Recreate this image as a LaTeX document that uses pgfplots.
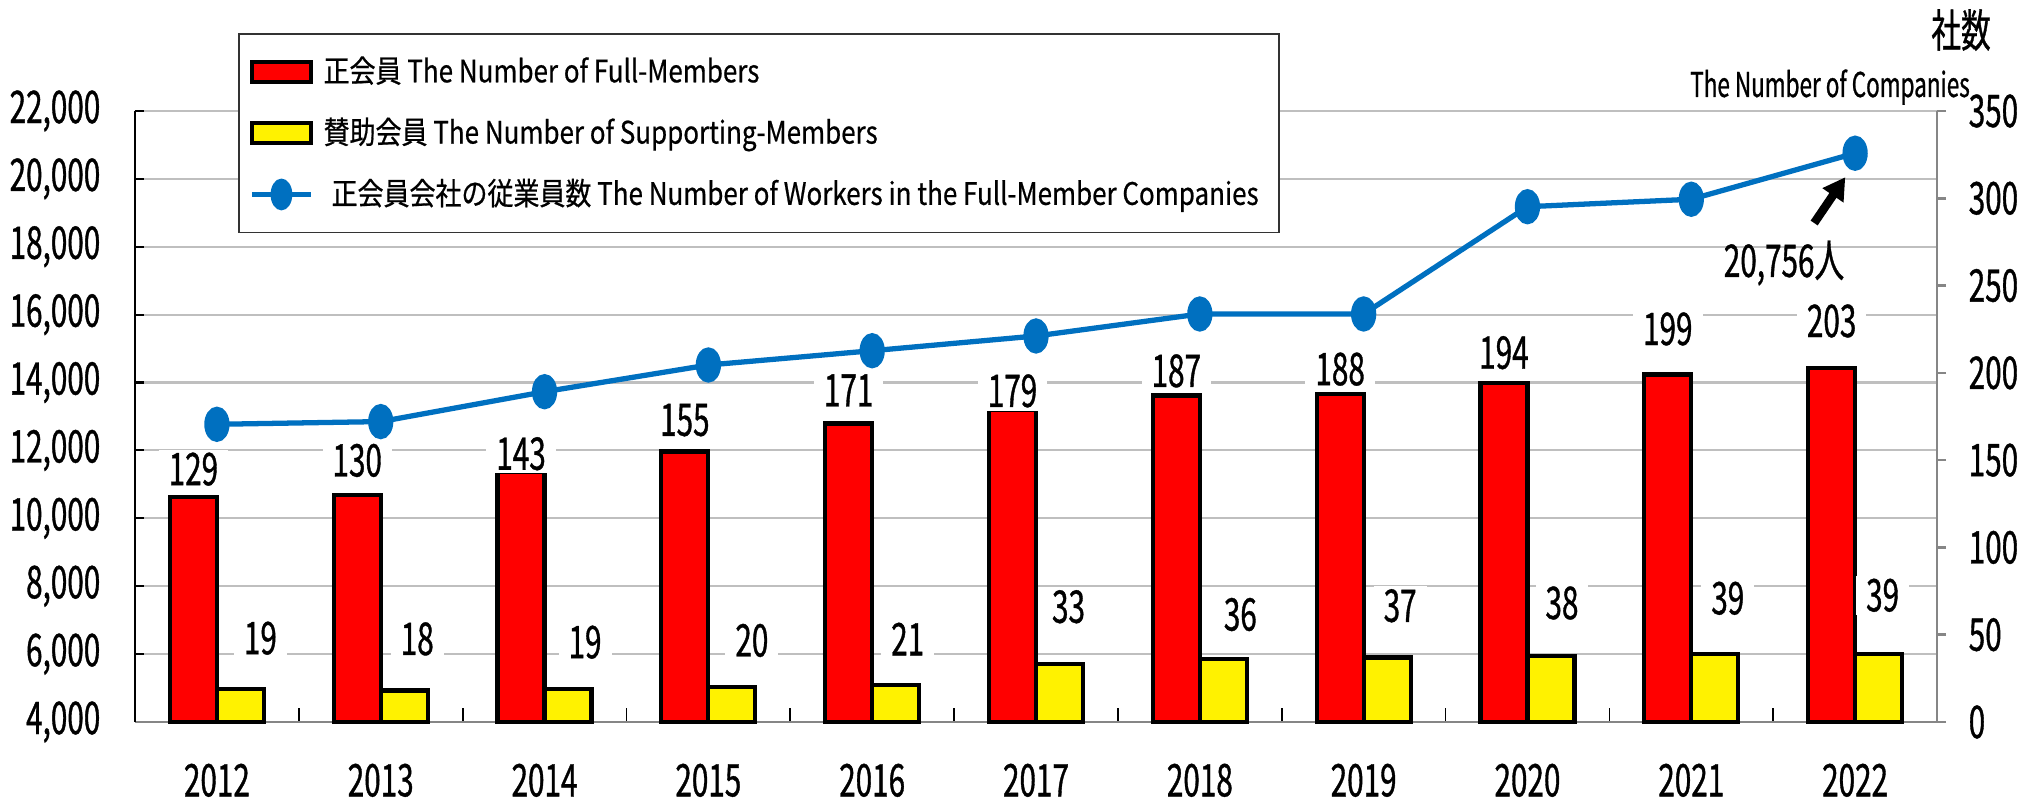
\documentclass[border=0pt]{standalone}
\usepackage{pgfplots}
\usepackage{pgfplotstable}
\pgfplotsset{compat=1.18}
\usetikzlibrary{arrows.meta}
\usepackage{fontspec}
\setmainfont{Noto Sans CJK JP}
\newfontfamily\nf{Noto Sans CJK JP}[FakeStretch=0.66, FakeBold=0.8]
\newfontfamily\lf{Noto Sans CJK JP}[FakeStretch=0.84, FakeBold=0.6]
\newcommand\tf{\nf\fontsize{12.8}{14}\selectfont}
\definecolor{lineblue}{RGB}{0,112,192}
\definecolor{gridgray}{RGB}{191,191,191}
\definecolor{axisgray}{RGB}{134,134,134}

\pgfplotstableread{
x full supp workers fgap sgap sdx
0 129 19 12770 11 34 20
1 130 18 12850 18 35 13
2 143 19 13730 2 30 17
3 155 20 14517 15 30 20
4 171 21 14938 17 30 12
5 179 33 15372 2 41 9
6 187 36 16020 8 28 17
7 188 37 16020 8 35 13
8 194 38 19180 14 36 11
9 199 39 19400 29 39 13
10 203 39 20756 30 42 4
}\datatable

\pgfplotsset{
  barleg/.style={legend image code/.code={\draw[##1] (0mm,-1mm) rectangle (5.9mm,1mm);}},
  lineleg/.style={legend image code/.code={%
    \draw[lineblue, line width=1.5pt] (0mm,0mm) -- (5.9mm,0mm);
    \fill[lineblue] (2.95mm,0mm) ellipse [x radius=1mm, y radius=1.5mm];}},
}

\begin{document}
\begin{tikzpicture}
\path[use as bounding box, fill=white] (-13.5mm,-8.1mm) rectangle (189.8mm,72.2mm);

% ---- left axis: workers (line) ----
\begin{axis}[
  at={(0,0)}, anchor=south west,
  width=180.2mm, height=61.1mm, scale only axis,
  xmin=-0.5, xmax=10.5,
  ymin=4000, ymax=22000,
  ytick={4000,6000,...,22000},
  scaled y ticks=false,
  /pgf/number format/1000 sep={,},
  /pgf/number format/assume math mode=true,
  axis x line*=bottom, axis y line*=left,
  x axis line style={axisgray, line width=0.8pt},
  y axis line style={black, line width=0.6pt},
  tick align=inside,
  xtick={0,...,10},
  xticklabels={2012,2013,2014,2015,2016,2017,2018,2019,2020,2021,2022},
  major x tick style={draw=none},
  minor xtick={0.5,1.5,...,9.5},
  minor tick length=1.4mm,
  minor x tick style={black, line width=0.5pt},
  major tick length=0.9mm,
  major y tick style={black, line width=0.6pt},
  ymajorgrids,
  grid style={gridgray, line width=0.6pt},
  yticklabel style={font=\tf, inner sep=0pt, xshift=-3.4mm},
  xticklabel style={font=\tf, inner sep=0pt, yshift=-4.1mm},
  clip=false,
]
\addplot[color=lineblue, line width=1.5pt, mark=*, mark size=1mm,
  mark options={fill=lineblue, draw=none, yscale=1.5}]
  table[x=x, y=workers] {\datatable};
\draw[-{Triangle[width=2.4mm,length=2.2mm]}, line width=0.85mm, black]
  (axis cs:9.75,18700) -- (axis cs:9.94,20050);
\end{axis}

% ---- right axis: companies (bars) ----
\begin{axis}[
  at={(0,0)}, anchor=south west,
  width=180.2mm, height=61.1mm, scale only axis,
  xmin=-0.5, xmax=10.5,
  ymin=0, ymax=350,
  ytick={0,50,...,350},
  /pgf/number format/assume math mode=true,
  hide x axis,
  axis y line*=right,
  y axis line style={axisgray, line width=0.7pt},
  tick align=outside,
  major tick length=0.9mm,
  major y tick style={axisgray, line width=0.7pt},
  yticklabel style={font=\tf, inner sep=0pt, xshift=2.2mm},
  ybar=0pt, bar width=4.7mm,
  clip=false,
  legend cell align=left,
  legend style={at={(0.0574,1.1277)}, anchor=north west,
    draw=black!80, line width=0.5pt, fill=white,
    font=\lf\fontsize{8.8}{10}\selectfont,
    inner xsep=1.0mm, inner ysep=1.45mm, row sep=1.4mm,
    nodes={inner xsep=1mm, inner ysep=0.8mm},
    cells={anchor=west}},
]
\addplot[fill=red, draw=black, line width=1.2pt, barleg,
  visualization depends on={\thisrow{fgap} \as \fgap},
  nodes near coords,
  nodes near coords style={font=\tf, fill=white, inner xsep=1mm, inner ysep=0.3mm,
    anchor=south, yshift=(\fgap-3)*0.1mm, line width=0pt, draw=none}]
  table[x=x, y=full] {\datatable};
\addplot[fill=yellow, draw=black, line width=1.2pt, barleg,
  visualization depends on={\thisrow{sgap} \as \sgap},
  visualization depends on={\thisrow{sdx} \as \sdx},
  nodes near coords,
  nodes near coords style={font=\tf, fill=white, inner xsep=1mm, inner ysep=0.3mm,
    anchor=south, yshift=(\sgap-3)*0.1mm, xshift=\sdx*0.1mm, line width=0pt, draw=none}]
  table[x=x, y=supp] {\datatable};
\addlegendimage{lineleg}
\legend{正会員 The Number of Full-Members,
        賛助会員 The Number of Supporting-Members,
        \hspace{0.8mm}正会員会社の従業員数 The Number of Workers in the Full-Member Companies}
\end{axis}

\node[font=\nf\fontsize{12.8}{14}\selectfont, inner sep=0pt] at (182.6mm,69.2mm) {社数};
\node[font=\nf\fontsize{9.7}{11}\selectfont, inner sep=0pt, anchor=base] at (169.5mm,62.5mm) {The Number of Companies};
\node[font=\tf, inner sep=0pt] at (164.9mm,45.9mm) {20,756人};
\end{tikzpicture}
\end{document}
